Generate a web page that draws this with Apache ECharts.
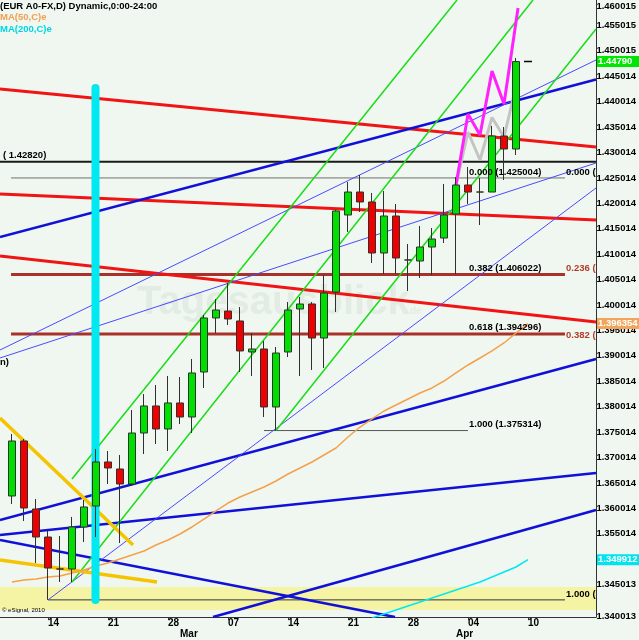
<!DOCTYPE html>
<html><head><meta charset="utf-8">
<script src="https://cdn.jsdelivr.net/npm/echarts@6/dist/echarts.min.js"></script>
<style>html,body{margin:0;padding:0;background:#f0f7f0}#c{width:639px;height:640px}</style>
</head><body><div id="c"></div>
<script>
// ---- data ----
const dates = ['2011-02-09','2011-02-10','2011-02-11','2011-02-14','2011-02-15','2011-02-16','2011-02-17','2011-02-18',
 '2011-02-21','2011-02-22','2011-02-23','2011-02-24','2011-02-25','2011-02-28','2011-03-01','2011-03-02','2011-03-03','2011-03-04',
 '2011-03-07','2011-03-08','2011-03-09','2011-03-10','2011-03-11','2011-03-14','2011-03-15','2011-03-16','2011-03-17','2011-03-18',
 '2011-03-21','2011-03-22','2011-03-23','2011-03-24','2011-03-25','2011-03-28','2011-03-29','2011-03-30','2011-03-31','2011-04-01',
 '2011-04-04','2011-04-05','2011-04-06','2011-04-07','2011-04-08'];
const openP  = [1.36244,1.37326,1.35988,1.35437,1.34808,1.34808,1.35634,1.36047,1.36913,1.36775,1.36480,1.37483,1.38015,1.37562,1.38074,1.37798,1.38683,1.39746,1.39883,1.39687,1.39077,1.39136,1.37995,1.39077,1.39923,1.40021,1.39352,1.40257,1.41772,1.42224,1.42028,1.41024,1.41752,1.40887,1.40867,1.41142,1.41319,1.41792,1.42362,1.42224,1.42224,1.43326,1.43070];
const closeP = [1.37326,1.36008,1.35437,1.34828,1.34808,1.35634,1.36028,1.36913,1.36795,1.36480,1.37483,1.38015,1.37562,1.38074,1.37798,1.38664,1.39746,1.39903,1.39726,1.39097,1.39136,1.37995,1.39057,1.39903,1.40021,1.39352,1.40237,1.41851,1.42224,1.42028,1.41024,1.41752,1.40926,1.40887,1.41142,1.41300,1.41772,1.42362,1.42224,1.42224,1.43326,1.43070,1.44790];
const lowP   = [1.36087,1.35752,1.34926,1.34200,1.34552,1.34552,1.35339,1.35437,1.36480,1.35319,1.36441,1.37070,1.37267,1.37129,1.37660,1.37483,1.38369,1.39451,1.39608,1.38683,1.38605,1.37798,1.37531,1.38978,1.38605,1.38723,1.38762,1.39864,1.41438,1.41831,1.40828,1.40611,1.40611,1.40277,1.40533,1.40592,1.41221,1.40610,1.41988,1.41575,1.42224,1.42460,1.42952];
const highP  = [1.37464,1.37365,1.36185,1.35555,1.35457,1.35831,1.36165,1.37169,1.37129,1.37050,1.37936,1.38251,1.38428,1.38605,1.38585,1.38939,1.39805,1.40119,1.40434,1.39962,1.39451,1.39293,1.39175,1.40060,1.40159,1.40060,1.40592,1.41870,1.42421,1.42559,1.42205,1.42244,1.41988,1.41201,1.41556,1.41516,1.42382,1.42520,1.42716,1.42500,1.43523,1.43503,1.44860];
const ma50 = [1.34552,1.34591,1.34611,1.34650,1.34670,1.34729,1.34788,1.34867,1.34926,1.35005,1.35083,1.35162,1.35280,1.35378,1.35496,1.35634,1.35791,1.35949,1.36106,1.36224,1.36323,1.36421,1.36539,1.36677,1.36795,1.36913,1.37050,1.37188,1.37405,1.37601,1.37759,1.37916,1.38034,1.38152,1.38270,1.38369,1.38506,1.38664,1.38821,1.38959,1.39097,1.39254,1.39451,1.39635];
const ma200Start = 30;
const ma200 = [1.33844,1.33923,1.34001,1.34080,1.34159,1.34237,1.34316,1.34395,1.34473,1.34552,1.34651,1.34749,1.34847,1.34991];
const yTickLabels = ['1.340013','1.345013','1.350014','1.355014','1.360014','1.365014','1.370014','1.375014','1.380014','1.385014','1.390014','1.395014','1.400014','1.405014','1.410014','1.415014','1.420014','1.425014','1.430014','1.435014','1.440014','1.445014','1.450015','1.455015','1.460015'];
const yTickShown = [0,1,3,4,5,6,7,8,9,10,11,12,13,14,15,16,17,18,19,20,21,22,23,24];
const dayTickIdx  = [3,8,13,18,23,28,33,38,43];
const dayTickText = ['14','21','28','07','14','21','28','04','10'];
const monthTickIdx  = [14,37];
const monthTickText = ['Mar','Apr'];
// drawn lines: [index, price] end points
const blackLevel = [[-1,1.42820],[48.667,1.42820]];
const fibB0   = [[-0.08,1.425004],[46.08,1.425004]];
const brown1  = [[-0.08,1.40602],[46.08,1.40602]];
const brown2  = [[-0.08,1.39430],[46.08,1.39430]];
const fibB1   = [[3,1.34200],[46.08,1.34200]];
const fibA382 = [[21,1.406022],[38,1.406022]];
const fibA618 = [[21,1.394296],[38,1.394296]];
const fibA100 = [[21,1.375314],[38,1.375314]];
const redA = [[-1,1.442506],[48.667,1.431096]];
const redB = [[-1,1.421850],[48.667,1.416735]];
const redC = [[-1,1.409653],[48.667,1.396670]];
const blueA = [[-1,1.413391],[48.667,1.444375]];
const blueB = [[-1,1.357718],[48.667,1.389391]];
const blueC = [[-1,1.354767],[48.667,1.366964]];
const blueD = [[16.75,1.338634],[48.667,1.359687]];
const blueE = [[-1,1.353784],[31.917,1.338634]];
const thin1 = [[-1,1.391161],[48.667,1.448212]];
const thin2 = [[-1,1.389587],[48.667,1.427949]];
const thin3 = [[3,1.34200],[48.667,1.423031]];
const green1 = [[5,1.345521],[43.417,1.460015]];
const green2 = [[5,1.365783],[37.083,1.460015]];
const green3 = [[22,1.375314],[48.667,1.454310]];
const gold1 = [[-1,1.377784],[10.083,1.352800]];
const gold2 = [[-1,1.349849],[12.083,1.345521]];
const magentaZig = [[37,1.423621],[38,1.437588],[39,1.433457],[40,1.446047],[41,1.439555],[42.17,1.458441]];
const grayZig = [[37,1.423621],[38,1.434047],[39,1.428539],[40,1.436900],[41,1.433063],[41.83,1.441326]];
const cyanBar = [[6.958,1.442703],[6.958,1.341980]];
const lastTick = [[42.667,1.44790],[43.333,1.44790]];
const yellowBand = [1.34454, 1.34001];
const lastClose = 1.44790, lastMA50 = 1.396354, lastMA200 = 1.349912;

// ---- chart ----
const chart = echarts.init(document.getElementById('c'), null, {renderer:'canvas'});
const FONT = 'Liberation Sans, Arial, sans-serif';
function seg(pts, color, width, z, extra) {
  return Object.assign({type:'line', data:pts, symbol:'none', silent:true, animation:false, z:z,
    lineStyle:{color:color, width:width}, xAxisIndex:0, yAxisIndex:0, clip:true}, extra||{});
}
const candleData = openP.map((o,i)=>[i, o, closeP[i], lowP[i], highP[i]]);
const series = [
  seg(blackLevel,'#1a1a1a',2,2,{markArea:{silent:true, itemStyle:{color:'#f4f4a4'}, data:[[{yAxis:yellowBand[0]},{yAxis:yellowBand[1]}]]}}),
  seg(fibB0,'#707070',1,2), seg(fibA382,'#555',1,2), seg(fibA618,'#555',1,2), seg(fibA100,'#555',1,2), seg(fibB1,'#333',1,2),
  seg(brown1,'#a8322a',3,2), seg(brown2,'#a8322a',3,2),
  seg(redA,'#f01414',3,3), seg(redB,'#f01414',3,3), seg(redC,'#f01414',3,3),
  seg(blueA,'#1010d8',2.5,3), seg(blueB,'#1010d8',2.5,3), seg(blueC,'#1010d8',2.5,3), seg(blueD,'#1010d8',2.5,3), seg(blueE,'#1010d8',2.5,3),
  seg(thin1,'#4a4aff',1,3), seg(thin2,'#4a4aff',1,3), seg(thin3,'#4a4aff',1,3),
  seg(green1,'#18dc18',1.5,3), seg(green2,'#18dc18',1.5,3), seg(green3,'#18dc18',1.5,3),
  seg(gold1,'#f5c400',3.5,3), seg(gold2,'#f5c400',3.5,3),
  seg(ma50.map((v,i)=>[i,v]),'#f5a04a',1.5,4),
  seg(ma200.map((v,i)=>[i+ma200Start,v]),'#00e8f0',1.5,4),
  seg(grayZig,'#c4c4c4',3,4),
  seg(magentaZig,'#ff22ff',3,5),
  seg(cyanBar,'#00e8f0',8,5,{lineStyle:{color:'#00e8f0',width:8,cap:'round'}}),
  seg(lastTick,'#000',1.5,5),
  {type:'candlestick', xAxisIndex:0, yAxisIndex:0, z:10, silent:true, animation:false, barWidth:8,
   dimensions:['idx','open','close','lowest','highest'],
   encode:{x:'idx', y:['open','close','lowest','highest']},
   data:candleData,
   itemStyle:{color:'#00e000', color0:'#ee0000', borderColor:'#303030', borderColor0:'#303030', borderWidth:1}}
];
const lblStyle = {fontSize:9.5, fontWeight:'bold', color:'#000', fontFamily:FONT};
const option = {
  animation:false,
  backgroundColor:'#f0f7f0',
  grid:[{left:0, right:43, top:0, bottom:23}, {left:0, right:43, top:0, height:610}],
  xAxis:[
    {type:'value', gridIndex:0, min:-1, max:48.6667, position:'bottom', splitLine:{show:false},
     axisLine:{show:true, onZero:false, lineStyle:{color:'#333', width:1}},
     axisTick:{show:true, customValues:dayTickIdx, length:3, lineStyle:{color:'#333'}},
     axisLabel:Object.assign({customValues:dayTickIdx, align:'left', margin:1,
       formatter:v=>dayTickText[dayTickIdx.indexOf(Math.round(v))]||''}, lblStyle, {fontSize:10})},
    {type:'value', gridIndex:0, min:-1, max:48.6667, position:'bottom', splitLine:{show:false},
     axisLine:{show:false}, axisTick:{show:false},
     axisLabel:Object.assign({customValues:monthTickIdx, align:'left', margin:12,
       formatter:v=>monthTickText[monthTickIdx.indexOf(Math.round(v))]||''}, lblStyle, {fontSize:10})},
    {type:'value', gridIndex:1, min:0, max:1, show:false}
  ],
  yAxis:[
    {type:'value', gridIndex:0, min:1.338634, max:1.460015, position:'right', splitLine:{show:false},
     axisLine:{show:true, onZero:false, lineStyle:{color:'#333', width:1}}, axisTick:{show:false}, axisLabel:{show:false}},
    {type:'value', gridIndex:1, min:0, max:24.0004, position:'right', splitLine:{show:false},
     axisLine:{show:false}, axisTick:{show:false},
     axisLabel:Object.assign({customValues:yTickShown, align:'left', margin:2,
       formatter:v=>{const i=Math.round(v); const t=yTickLabels[i]||''; return (i===0||i===24)?'{e|'+t+'}':t;},
       rich:{e:Object.assign({padding:[12,0,0,0]}, lblStyle)}}, lblStyle)}
  ],
  series:series
};
chart.setOption(option);

function px(x,y){ return chart.convertToPixel({gridIndex:0}, [x,y]); }
function txt(x,y,text,opt){
  return {type:'text', x:x, y:y, silent:true, z:50, zlevel:1, style:Object.assign({text:text, fill:'#000',
    font:'bold 9.5px '+FONT, textAlign:'left', textVerticalAlign:'middle'}, opt||{})};
}
function priceBox(val, bg, label){
  const p = px(0,val);
  return [
    {type:'rect', zlevel:2, z:60, silent:true, shape:{x:597,y:p[1]-5.5,width:42,height:11}, style:{fill:bg}},
    {type:'text', zlevel:2, z:61, silent:true, x:598, y:p[1], style:{text:label, fill:'#fff', font:'bold 9.5px '+FONT, textVerticalAlign:'middle'}}
  ];
}
const xA = px(38.08,0)[0], xB = px(46.17,0)[0];
const g = [
  txt(0,6,'(EUR A0-FX,D) Dynamic,0:00-24:00'),
  txt(0,17,'MA(50,C)e',{fill:'#f0a050'}),
  txt(0,29,'MA(200,C)e',{fill:'#00d4e4'}),
  txt(3,px(0,1.4282)[1]-1,'( 1.42820)',{textVerticalAlign:'bottom'}),
  txt(0,362,'n)'),
  txt(xA,px(0,1.425004)[1]-1,'0.000 (1.425004)',{textVerticalAlign:'bottom'}),
  txt(xA,px(0,1.406022)[1]-1,'0.382 (1.406022)',{textVerticalAlign:'bottom'}),
  txt(xA,px(0,1.394296)[1]-2,'0.618 (1.394296)',{textVerticalAlign:'bottom'}),
  txt(xA,px(0,1.375314)[1]-1,'1.000 (1.375314)',{textVerticalAlign:'bottom'}),
  txt(xB,px(0,1.425004)[1]-1,'0.000 (',{textVerticalAlign:'bottom'}),
  txt(xB,px(0,1.40602)[1]-1,'0.236 (',{textVerticalAlign:'bottom', fill:'#b03c28'}),
  txt(xB,px(0,1.39430)[1]+1,'0.382 (',{fill:'#b03c28'}),
  txt(xB,px(0,1.34200)[1]-1,'1.000 (',{textVerticalAlign:'bottom'}),
  txt(2,610,'\u00a9 eSignal, 2010',{font:'6px '+FONT}),
  {type:'text', x:137, y:303, z:1, silent:true, style:{text:'Tagesausblick', fill:'#e2ece2', font:'bold 40px '+FONT, textVerticalAlign:'middle'}},
  {type:'text', x:410, y:311, z:1, silent:true, style:{text:'de', fill:'#e2ece2', font:'bold 10px '+FONT, textVerticalAlign:'middle'}}
].concat(priceBox(lastClose,'#00e600','1.44790'), priceBox(lastMA50,'#f2a55a','1.396354'), priceBox(lastMA200,'#00e4f0','1.349912'));
chart.setOption({graphic:g});
</script></body></html>
